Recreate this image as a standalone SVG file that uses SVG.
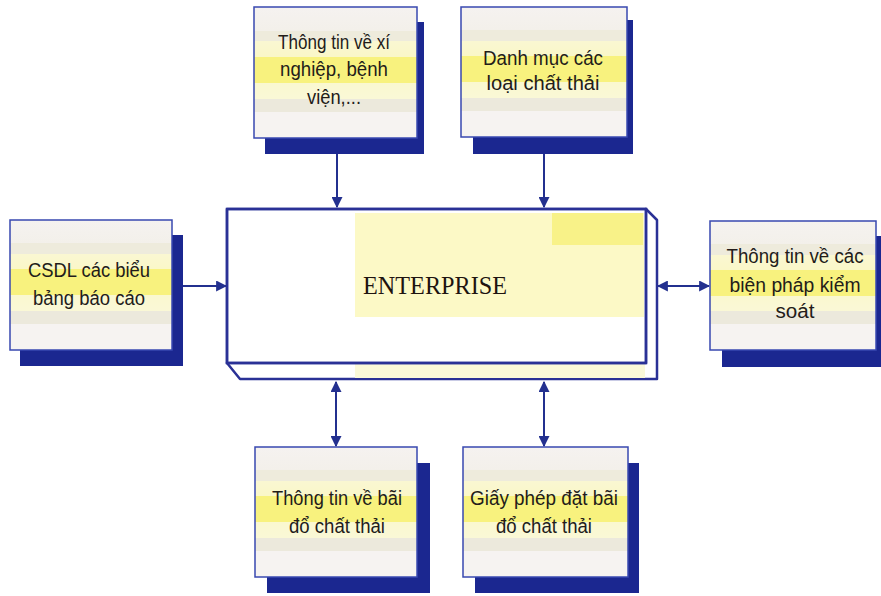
<svg xmlns="http://www.w3.org/2000/svg" width="881" height="596" viewBox="0 0 881 596">
<style>
.shadow{fill:#1b2790}
.card{fill:url(#band);stroke:#3848b0;stroke-width:1.5}
.lbl{font-family:"Liberation Sans",Arial,sans-serif;font-size:20px;fill:#231c1a;text-anchor:middle}
.conn{stroke:#23308f;stroke-width:2;fill:none}
.ent{fill:#ffffff;stroke:#2a3196;stroke-width:2.5;stroke-linejoin:round}
</style>
<defs>
<linearGradient id="band" x1="0" y1="0" x2="0" y2="1">
<stop offset="0" stop-color="#f5f2f0"/>
<stop offset="0.18" stop-color="#f3f0ea"/>
<stop offset="0.18" stop-color="#eeebdc"/>
<stop offset="0.26" stop-color="#eeebdc"/>
<stop offset="0.26" stop-color="#faf7d2"/>
<stop offset="0.38" stop-color="#faf7c8"/>
<stop offset="0.38" stop-color="#f8f27e"/>
<stop offset="0.58" stop-color="#f8f27e"/>
<stop offset="0.58" stop-color="#faf8d0"/>
<stop offset="0.7" stop-color="#faf8d6"/>
<stop offset="0.7" stop-color="#ece9dc"/>
<stop offset="0.8" stop-color="#ece9dc"/>
<stop offset="0.8" stop-color="#f6f3f1"/>
<stop offset="1" stop-color="#f6f3f1"/>
</linearGradient>
<marker id="ah" viewBox="0 0 10 10" refX="9" refY="5" markerWidth="5.5" markerHeight="5.5" orient="auto-start-reverse">
<path d="M0,0 L10,5 L0,10 z" fill="#23308f"/>
</marker>
</defs>

<g id="connectors">
<line class="conn" x1="337" y1="150" x2="337" y2="207" marker-end="url(#ah)"/>
<line class="conn" x1="544" y1="150" x2="544" y2="207" marker-end="url(#ah)"/>
<line class="conn" x1="183" y1="286" x2="226" y2="286" marker-end="url(#ah)"/>
<line class="conn" x1="658" y1="286" x2="709" y2="286" marker-start="url(#ah)" marker-end="url(#ah)"/>
<line class="conn" x1="336" y1="382" x2="336" y2="446" marker-start="url(#ah)" marker-end="url(#ah)"/>
<line class="conn" x1="544" y1="382" x2="544" y2="446" marker-start="url(#ah)" marker-end="url(#ah)"/>
</g>

<g id="enterprise">
<path class="ent" d="M646,209 L657,220 L657,379 L240,379 L227,363 Z"/>
<rect x="355" y="364" width="290" height="14" fill="#fbf9d8"/>
<rect class="ent" x="227" y="209" width="419" height="154"/>
<rect x="355" y="213" width="289" height="104" fill="#fcf9c6"/>
<rect x="552" y="213" width="91" height="32" fill="#f8f288"/>
<rect x="227" y="209" width="419" height="154" fill="none" stroke="#2a3196" stroke-width="2.5"/>
<text x="435" y="294" font-family="'Liberation Serif','Times New Roman',serif" font-size="26" fill="#1e1410" text-anchor="middle" textLength="144" lengthAdjust="spacingAndGlyphs">ENTERPRISE</text>
</g>

<g id="n-xinghiep">
<rect class="shadow" x="265" y="22" width="159" height="132"/>
<rect class="card" x="254" y="7" width="163" height="131"/>
<text class="lbl" x="334" y="49" textLength="112" lengthAdjust="spacingAndGlyphs">Thông tin về xí</text>
<text class="lbl" x="334" y="76" textLength="108" lengthAdjust="spacingAndGlyphs">nghiệp, bệnh</text>
<text class="lbl" x="334" y="104" textLength="54" lengthAdjust="spacingAndGlyphs">viện,...</text>
</g>

<g id="n-danhmuc">
<rect class="shadow" x="473" y="20" width="160" height="134"/>
<rect class="card" x="461" y="7" width="166" height="130"/>
<text class="lbl" x="543" y="65" textLength="120" lengthAdjust="spacingAndGlyphs">Danh mục các</text>
<text class="lbl" x="543" y="90" textLength="113" lengthAdjust="spacingAndGlyphs">loại chất thải</text>
</g>

<g id="n-csdl">
<rect class="shadow" x="20" y="235" width="163" height="131"/>
<rect class="card" x="10" y="220" width="162" height="130"/>
<text class="lbl" x="89" y="277" textLength="122" lengthAdjust="spacingAndGlyphs">CSDL các biểu</text>
<text class="lbl" x="89" y="305" textLength="112" lengthAdjust="spacingAndGlyphs">bảng báo cáo</text>
</g>

<g id="n-bienphap">
<rect class="shadow" x="722" y="236" width="162" height="131"/>
<rect class="card" x="710" y="221" width="166" height="129"/>
<text class="lbl" x="795" y="263" textLength="137" lengthAdjust="spacingAndGlyphs">Thông tin về các</text>
<text class="lbl" x="795" y="292" textLength="131" lengthAdjust="spacingAndGlyphs">biện pháp kiểm</text>
<text class="lbl" x="795" y="318" textLength="39" lengthAdjust="spacingAndGlyphs">soát</text>
</g>

<g id="n-baido">
<rect class="shadow" x="267" y="463" width="163" height="130"/>
<rect class="card" x="255" y="447" width="162" height="130"/>
<text class="lbl" x="337" y="505" textLength="130" lengthAdjust="spacingAndGlyphs">Thông tin về bãi</text>
<text class="lbl" x="337" y="533" textLength="96" lengthAdjust="spacingAndGlyphs">đổ chất thải</text>
</g>

<g id="n-giayphep">
<rect class="shadow" x="475" y="463" width="164" height="130"/>
<rect class="card" x="463" y="447" width="165" height="130"/>
<text class="lbl" x="544" y="505" textLength="148" lengthAdjust="spacingAndGlyphs">Giấy phép đặt bãi</text>
<text class="lbl" x="544" y="533" textLength="96" lengthAdjust="spacingAndGlyphs">đổ chất thải</text>
</g>
</svg>
